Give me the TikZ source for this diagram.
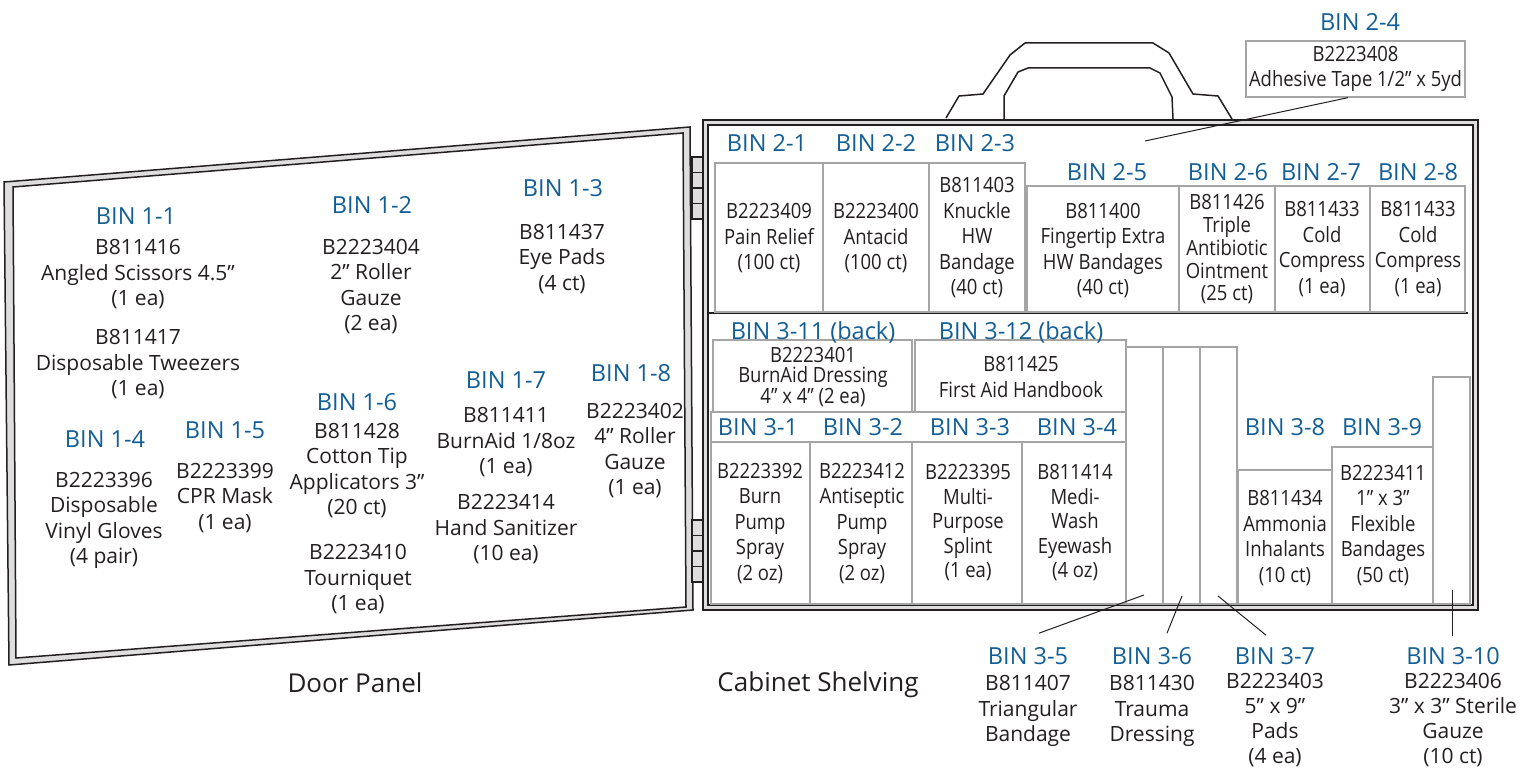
\documentclass[tikz,border=0pt]{standalone}
\usepackage{fontspec}
\setmainfont{Open Sans}
\newfontfamily\binfont{Open Sans}[FakeStretch=0.88]
\definecolor{binblue}{RGB}{18,94,150}
\definecolor{inkgray}{RGB}{35,31,32}
\definecolor{boxgray}{RGB}{165,165,165}
\definecolor{framegray}{RGB}{222,222,222}

\begin{document}
\begin{tikzpicture}[x=1pt,y=1pt,yscale=-1,xscale=1,
	frameline/.style={draw=inkgray,line width=1.5},
	hingeline/.style={draw=inkgray,line width=1.8},
	binbox/.style={draw=boxgray,line width=1.3},
	leader/.style={draw=inkgray,line width=1},
	lbl/.style={text=binblue,inner sep=0,font=\fontsize{23.5}{28}\selectfont},
	door/.style={text=inkgray,inner sep=0,align=center,font=\fontsize{21}{25.5}\selectfont},
	shelf/.style={text=inkgray,inner sep=0,align=center,font=\binfont\fontsize{21}{25.5}\selectfont},
	paneltitle/.style={text=inkgray,inner sep=0,font=\fontsize{26}{30}\selectfont}]
	\useasboundingbox (0,0) rectangle (1536,770);
	
	%Shape: Door frame
	\draw [frameline,fill=framegray] (4,182) -- (690,127) -- (693,610) -- (9,665) -- cycle;
	\draw [frameline,fill=white] (13,187) -- (683,133) -- (686,607) -- (16,658) -- cycle;
	
	%Shape: Hinges
	\draw [hingeline,fill=framegray] (692,157) rectangle (703,219);
	\draw [hingeline] (692,172.5) -- (703,172.5) (692,188) -- (703,188) (692,203.5) -- (703,203.5);
	\draw [hingeline,fill=framegray] (692,520) rectangle (703,582);
	\draw [hingeline] (692,535.5) -- (703,535.5) (692,551) -- (703,551) (692,566.5) -- (703,566.5);
	
	%Shape: Cabinet frame
	\draw [frameline,fill=framegray] (703,120) rectangle (1478,610);
	\draw [frameline,fill=white] (708,125) rectangle (1473,605);
	
	%Shape: Handle
	\draw [frameline,line join=round] (946,118) -- (959,96) -- (983,94) -- (1010,55) -- (1025,43) -- (1153,43) -- (1169,53) -- (1193,94) -- (1218,96) -- (1232,119);
	\draw [frameline,line join=round] (1004,119) -- (1004,96) -- (1018,72) -- (1028,68) -- (1150,68) -- (1160,73) -- (1172,97) -- (1173,119);
	
	%Straight Lines: Shelf
	\draw [draw=inkgray,line width=2] (709,313) -- (1468,313);
	
	%Shape: Top shelf bins
	\draw [binbox] (715,163) rectangle (823,312);
	\draw [binbox] (823,163) rectangle (929,312);
	\draw [binbox] (929,163) rectangle (1025,312);
	\draw [binbox] (1027,186) rectangle (1179,312);
	\draw [binbox] (1179,186) rectangle (1275,312);
	\draw [binbox] (1275,186) rectangle (1370,312);
	\draw [binbox] (1370,186) rectangle (1465,312);
	
	%Shape: Bottom shelf bins
	\draw [binbox] (713,340) rectangle (912,412);
	\draw [binbox] (915,340) rectangle (1126,412);
	\draw [binbox] (711,412) rectangle (1126,442);
	\draw [binbox] (711,442) rectangle (810,604);
	\draw [binbox] (810,442) rectangle (912,604);
	\draw [binbox] (912,442) rectangle (1022,604);
	\draw [binbox] (1022,442) rectangle (1126,604);
	\draw [binbox] (1126,347) rectangle (1163,604);
	\draw [binbox] (1163,347) rectangle (1200,604);
	\draw [binbox] (1200,347) rectangle (1237,604);
	\draw [binbox] (1238,470) rectangle (1332,604);
	\draw [binbox] (1332,447) rectangle (1433,604);
	\draw [binbox] (1433,377) rectangle (1470,604);
	
	% Text Node: door
	\node (b11) at (136,216) [lbl] {BIN 1-1};
	\node (t11a) at (138,274.5) [door] {B811416\\Angled Scissors 4.5”\\(1 ea)};
	\node (t11b) at (138,364.5) [door] {B811417\\Disposable Tweezers\\(1 ea)};
	\node (b12) at (372,205) [lbl] {BIN 1-2};
	\node (t12) at (371,286.5) [door] {B2223404\\2” Roller\\Gauze\\(2 ea)};
	\node (b13) at (563,188) [lbl] {BIN 1-3};
	\node (t13) at (562,259) [door] {B811437\\Eye Pads\\(4 ct)};
	\node (b14) at (105,439) [lbl] {BIN 1-4};
	\node (t14) at (104,520.5) [door] {B2223396\\Disposable\\Vinyl Gloves\\(4 pair)};
	\node (b15) at (225,430) [lbl] {BIN 1-5};
	\node (t15) at (225,498) [door] {B2223399\\CPR Mask\\(1 ea)};
	\node (b16) at (357,402) [lbl] {BIN 1-6};
	\node (t16a) at (357,470.5) [door] {B811428\\Cotton Tip\\Applicators 3”\\(20 ct)};
	\node (t16b) at (358,579.5) [door] {B2223410\\Tourniquet\\(1 ea)};
	\node (b17) at (506,380) [lbl] {BIN 1-7};
	\node (t17a) at (506,442.5) [door] {B811411\\BurnAid 1/8oz\\(1 ea)};
	\node (t17b) at (506,529.5) [door] {B2223414\\Hand Sanitizer\\(10 ea)};
	\node (b18) at (631,373) [lbl] {BIN 1-8};
	\node (t18) at (635,450.5) [door] {B2223402\\4” Roller\\Gauze\\(1 ea)};
	
	% Text Node: top shelf
	\node (b21) at (767,143) [lbl] {BIN 2-1};
	\node (t21) at (769,238.5) [shelf] {B2223409\\Pain Relief\\(100 ct)};
	\node (b22) at (876,143) [lbl] {BIN 2-2};
	\node (t22) at (876,238.5) [shelf] {B2223400\\Antacid\\(100 ct)};
	\node (b23) at (975,143) [lbl] {BIN 2-3};
	\node (t23) at (977,238) [shelf] {B811403\\Knuckle\\HW\\Bandage\\(40 ct)};
	\node (b24) at (1360,22) [lbl] {BIN 2-4};
	\node (t24) at (1355.5,69) [shelf,draw=boxgray,line width=1.3,minimum width=219,minimum height=56] {B2223408\\Adhesive Tape 1/2” x 5yd};
	\node (b25) at (1107,172) [lbl] {BIN 2-5};
	\node (t25) at (1103,250.5) [shelf] {B811400\\Fingertip Extra\\HW Bandages\\(40 ct)};
	\node (b26) at (1228,172) [lbl] {BIN 2-6};
	\node (t26) at (1227,249.5) [shelf,font=\binfont\fontsize{21}{22.75}\selectfont] {B811426\\Triple\\Antibiotic\\Ointment\\(25 ct)};
	\node (b27) at (1321,172) [lbl] {BIN 2-7};
	\node (t27) at (1322,249) [shelf] {B811433\\Cold\\Compress\\(1 ea)};
	\node (b28) at (1418,172) [lbl] {BIN 2-8};
	\node (t28) at (1418,249) [shelf] {B811433\\Cold\\Compress\\(1 ea)};
	
	% Text Node: bottom shelf
	\node (b311) at (813,332) [lbl] {BIN 3-11 (back)};
	\node (t311) at (813,377) [shelf,font=\binfont\fontsize{21}{20}\selectfont] {B2223401\\BurnAid Dressing\\4” x 4” (2 ea)};
	\node (b312) at (1021,332) [lbl] {BIN 3-12 (back)};
	\node (t312) at (1021,377) [shelf,font=\binfont\fontsize{21}{26}\selectfont] {B811425\\First Aid Handbook};
	\node (b31) at (758,427) [lbl] {BIN 3-1};
	\node (t31) at (760,523.5) [shelf] {B2223392\\Burn\\Pump\\Spray\\(2 oz)};
	\node (b32) at (863,427) [lbl] {BIN 3-2};
	\node (t32) at (862,523.5) [shelf] {B2223412\\Antiseptic\\Pump\\Spray\\(2 oz)};
	\node (b33) at (970,427) [lbl] {BIN 3-3};
	\node (t33) at (968,523) [shelf,font=\binfont\fontsize{21}{24.5}\selectfont] {B2223395\\Multi-\\Purpose\\Splint\\(1 ea)};
	\node (b34) at (1077,427) [lbl] {BIN 3-4};
	\node (t34) at (1075,523) [shelf,font=\binfont\fontsize{21}{24.5}\selectfont] {B811414\\Medi-\\Wash\\Eyewash\\(4 oz)};
	\node (b38) at (1285,427) [lbl] {BIN 3-8};
	\node (t38) at (1285,538) [shelf] {B811434\\Ammonia\\Inhalants\\(10 ct)};
	\node (b39) at (1382,427) [lbl] {BIN 3-9};
	\node (t39) at (1383,525.5) [shelf] {B2223411\\1” x 3”\\Flexible\\Bandages\\(50 ct)};
	
	% Text Node: under the cabinet
	\node (b35) at (1028,656) [lbl] {BIN 3-5};
	\node (t35) at (1028,711) [door] {B811407\\Triangular\\Bandage};
	\node (b36) at (1152,656) [lbl] {BIN 3-6};
	\node (t36) at (1152,711) [door] {B811430\\Trauma\\Dressing};
	\node (b37) at (1275,656) [lbl] {BIN 3-7};
	\node (t37) at (1275,720.5) [door,font=\fontsize{21}{25}\selectfont] {B2223403\\5” x 9”\\Pads\\(4 ea)};
	\node (b310) at (1453,656) [lbl] {BIN 3-10};
	\node (t310) at (1453,720.5) [door,font=\fontsize{21}{25}\selectfont] {B2223406\\3” x 3” Sterile\\Gauze\\(10 ct)};
	
	% Text Node: titles
	\node (doortitle) at (355,683) [paneltitle] {Door Panel};
	\node (cabtitle) at (818,685) [paneltitle] {Cabinet Shelving};
	
	%Straight Lines: leaders
	\coordinate (p24) at (1145,141);
	\coordinate (s35) at (1144,595);
	\coordinate (s36) at (1182,596);
	\coordinate (s37) at (1218,596);
	\coordinate (s310) at (1452,590);
	\draw [leader] ([xshift=-7.5pt]t24.south) -- (p24);
	\draw [leader] (s35) -- ([shift={(11,-14)}]b35.north);
	\draw [leader] (s36) -- ([shift={(15,-14)}]b36.north);
	\draw [leader] (s37) -- ([shift={(-9,-12)}]b37.north);
	\draw [leader] (s310) -- ([shift={(-1,-11)}]b310.north);
	
\end{tikzpicture}
\end{document}
